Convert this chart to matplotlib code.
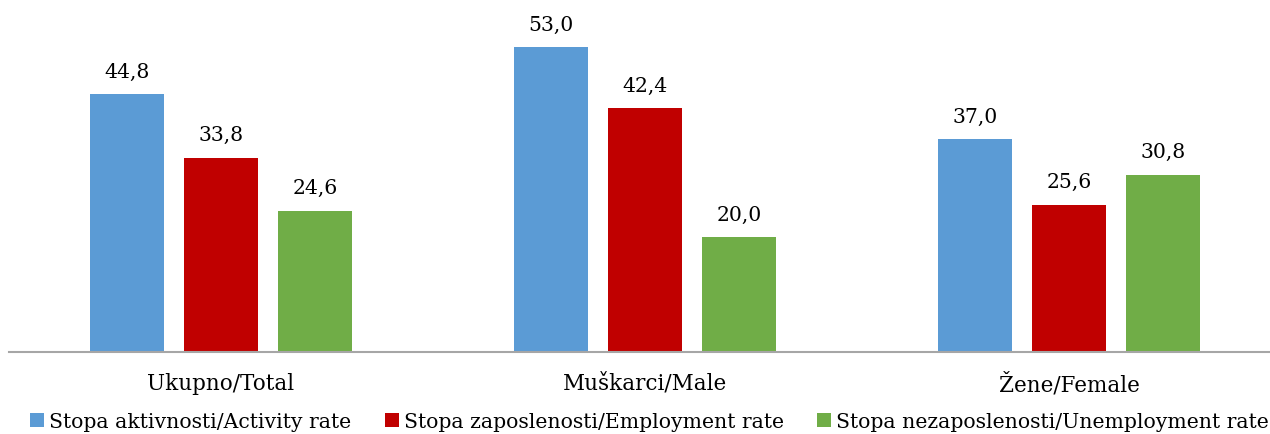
import matplotlib
matplotlib.use("Agg")
import matplotlib.pyplot as plt
import numpy as np

categories = ["Ukupno/Total", "Muškarci/Male", "Žene/Female"]
series_names = ["Stopa aktivnosti/Activity rate",
                "Stopa zaposlenosti/Employment rate",
                "Stopa nezaposlenosti/Unemployment rate"]
activity = [44.8, 53.0, 37.0]
employment = [33.8, 42.4, 25.6]
unemployment = [24.6, 20.0, 30.8]
colors = ["#5B9BD5", "#C00000", "#70AD47"]

plt.rcParams['font.family'] = ['DejaVu Serif']

fig = plt.figure(figsize=(12.7, 4.34), dpi=100)
ax = fig.add_axes([9/1270, (434-352)/434, 3*424/1270, 352/434])

x = np.arange(len(categories))
width = 0.1745
pitch = 0.2217
for i, (vals, name, c) in enumerate(zip([activity, employment, unemployment], series_names, colors)):
    bars = ax.bar(x + (i - 1) * pitch, vals, width, color=c, label=name, zorder=2)
    for b, v in zip(bars, vals):
        ax.annotate(f"{v:.1f}".replace(".", ","), (b.get_x() + b.get_width() / 2, v),
                    xytext=(0, 9), textcoords="offset points", ha="center", va="bottom",
                    fontsize=14.7, color="#000000")

ax.set_xlim(-0.5, 2.5)
ax.set_ylim(0, 61.2)
ax.set_yticks([])
for s in ["top", "right", "left"]:
    ax.spines[s].set_visible(False)
ax.spines["bottom"].set_color("#A6A6A6")
ax.spines["bottom"].set_linewidth(1.5)
ax.set_xticks(x)
ax.set_xticklabels(categories, fontsize=15.5)
ax.tick_params(axis="x", length=0, pad=15)

leg = fig.legend(loc="center left", bbox_to_anchor=(30/1270, 1 - 422/434), ncol=3, frameon=False,
                 fontsize=14.7, handlelength=0.68, handleheight=0.68, handletextpad=0.25,
                 columnspacing=1.65, borderpad=0, borderaxespad=0)

fig.savefig("out.png", dpi=100)
